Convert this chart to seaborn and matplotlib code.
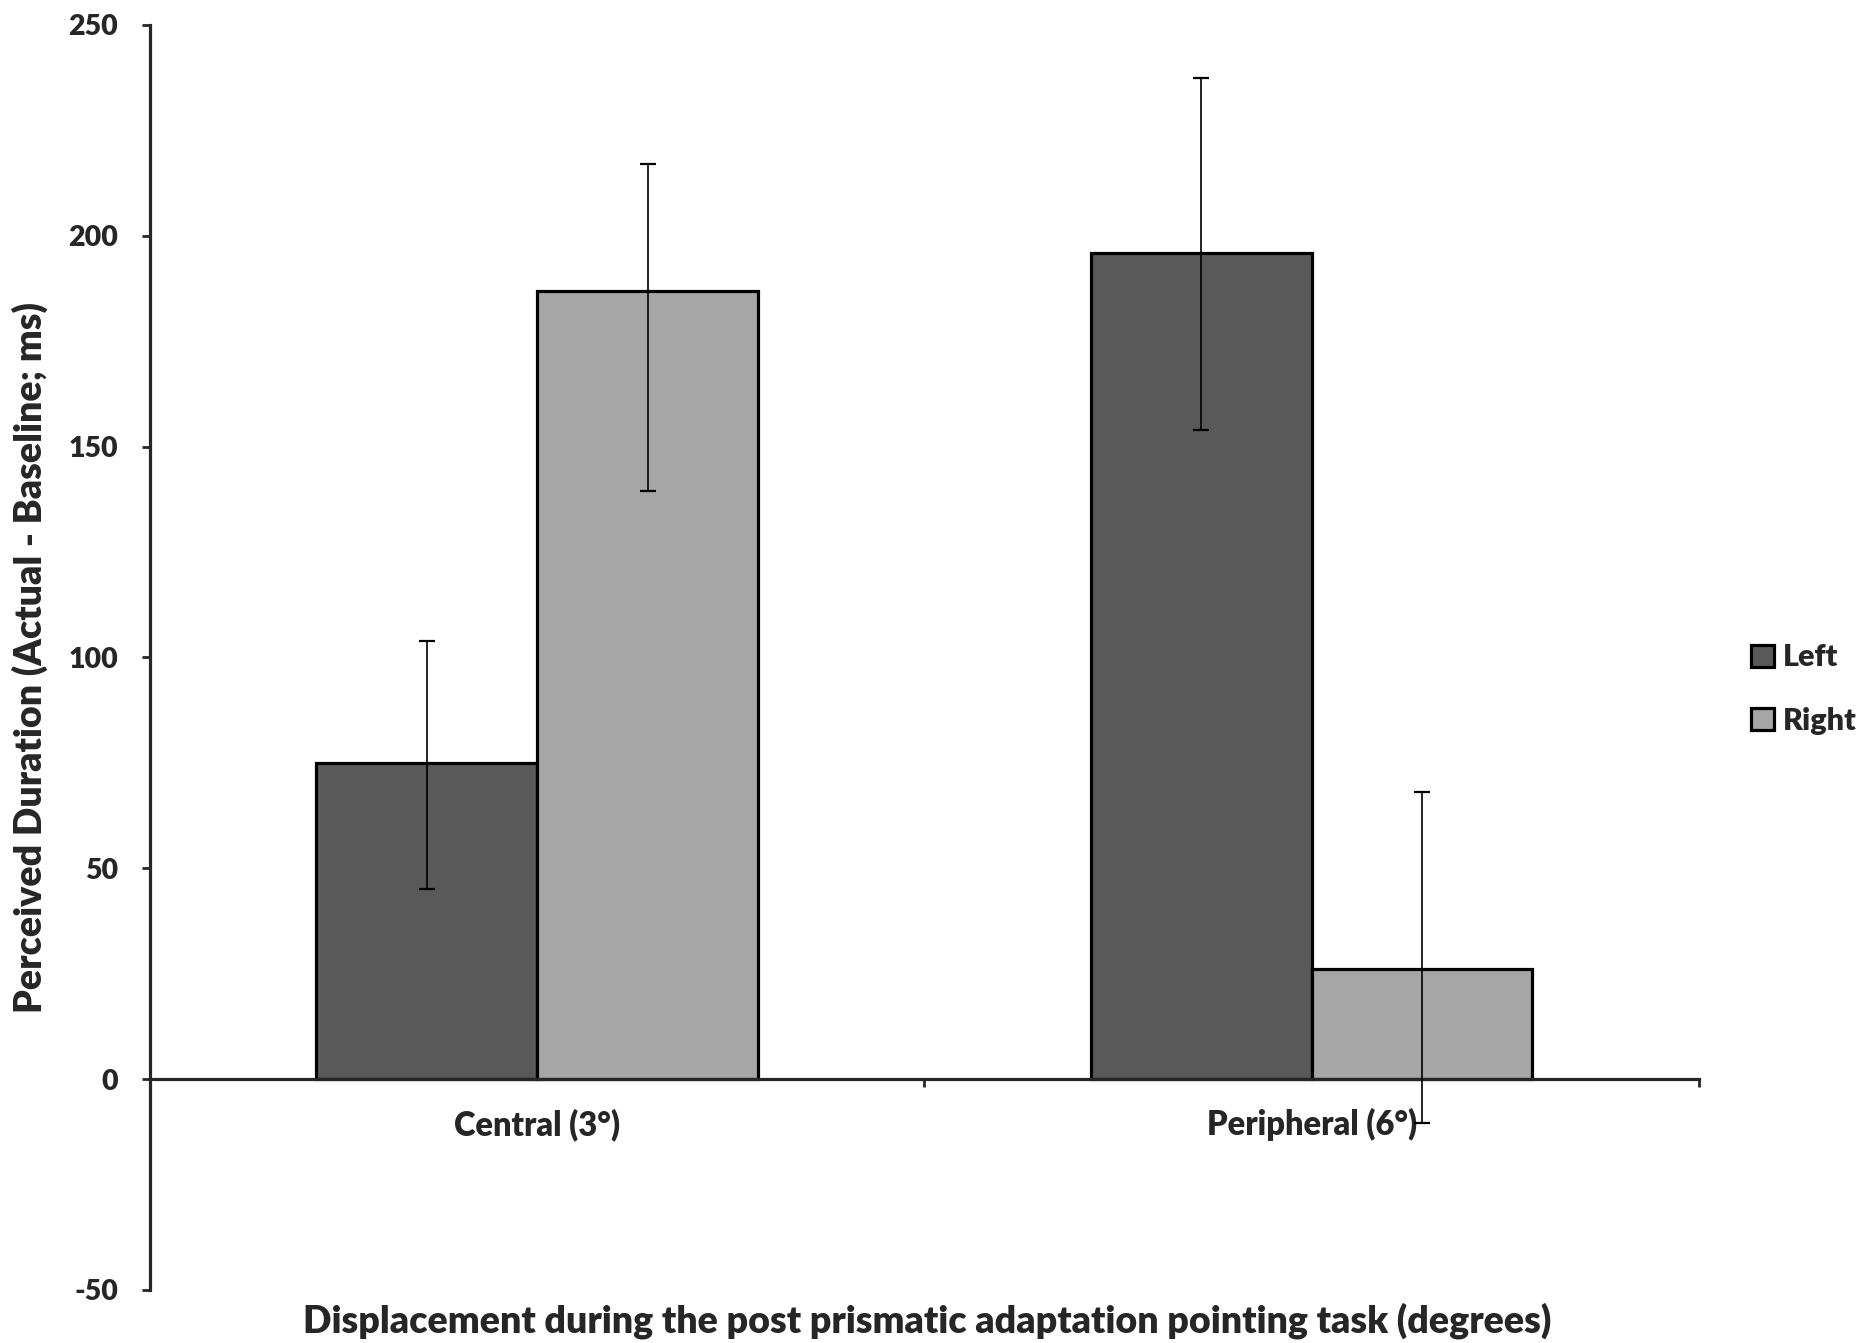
import pandas as pd
import matplotlib.pyplot as plt
import seaborn as sns
from matplotlib.patches import Patch

# Data
categories = ["Central (3°)", "Peripheral (6°)"]
sides = ["Left", "Right"]
left_means = [75, 196]
right_means = [187, 26]
left_err_low = [30, 42]
left_err_high = [29, 41.5]
right_err_low = [47.5, 36.5]
right_err_high = [30, 42]
yticks = [-50, 0, 50, 100, 150, 200, 250]

colors = ["#595959", "#A6A6A6"]

df = pd.DataFrame({
    "Displacement": categories * 2,
    "Side": [sides[0]] * 2 + [sides[1]] * 2,
    "Duration": left_means + right_means,
})

sns.set_style("ticks")
plt.rcParams["font.family"] = ["Lato", "DejaVu Sans"]
plt.rcParams["font.weight"] = "bold"
plt.rcParams["axes.unicode_minus"] = False

fig = plt.figure(figsize=(18.74, 13.43), dpi=100)
ax = fig.add_axes([0.080, 0.0395, 0.8266, 0.9419])

sns.barplot(
    data=df,
    x="Displacement",
    y="Duration",
    hue="Side",
    hue_order=sides,
    order=categories,
    palette=colors,
    width=0.57,
    edgecolor="black",
    linewidth=2.3,
    errorbar=None,
    legend=False,
    ax=ax,
)

# Error bars
means = [left_means, right_means]
lows = [left_err_low, right_err_low]
highs = [left_err_high, right_err_high]
for cont, m, lo, hi in zip(ax.containers, means, lows, highs):
    xs = [p.get_x() + p.get_width() / 2 for p in cont]
    ax.errorbar(xs, m, yerr=[lo, hi], fmt="none", ecolor="black",
                elinewidth=1.2, capsize=6, capthick=1.6, zorder=5,
                clip_on=False)

# Axes styling
ax.set_xlim(-0.5, 1.5)
ax.set_ylim(-50, 250)
ax.set_yticks(yticks)
ax.spines["top"].set_visible(False)
ax.spines["right"].set_visible(False)
ax.spines["bottom"].set_position(("data", 0))
ax.spines["left"].set_linewidth(2.3)
ax.spines["bottom"].set_linewidth(2.3)

ax.tick_params(axis="y", direction="out", length=6, width=2, pad=17,
               labelsize=20.5)
ax.set_xticks([-0.5, 0.5, 1.5], minor=True)
ax.tick_params(axis="x", which="major", length=0, pad=21, labelsize=23.5)
ax.tick_params(axis="x", which="minor", direction="out", length=6, width=2)
for lbl in ax.get_xticklabels() + ax.get_yticklabels():
    lbl.set_fontweight("heavy")

ax.set_xlabel("Displacement during the post prismatic adaptation pointing task (degrees)",
              fontsize=27, fontweight="heavy")
ax.xaxis.set_label_coords(0.502, -0.010)
ax.set_ylabel("Perceived Duration (Actual - Baseline; ms)",
              fontsize=27, fontweight="heavy")
ax.yaxis.set_label_coords(-0.066, 0.5)

handles = [Patch(facecolor=c, edgecolor="black", linewidth=2.3) for c in colors]
fig.legend(handles, sides, loc="center left", bbox_to_anchor=(0.9195, 0.487),
           frameon=False, handlelength=0.75, handleheight=0.75,
           handletextpad=0.3, labelspacing=1.15,
           prop={"weight": "heavy", "size": 22})

fig.savefig("out.png", dpi=100)
